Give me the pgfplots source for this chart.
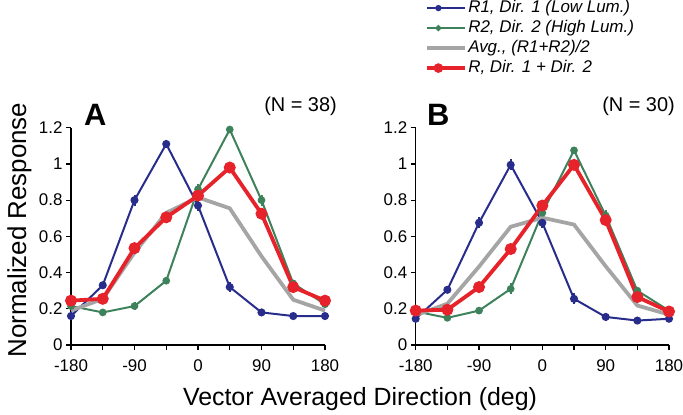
\documentclass[border=0pt]{standalone}
\usepackage{pgfplots}
\pgfplotsset{compat=1.18}
\usepackage{fontspec}
\setmainfont{Liberation Sans}
\setsansfont{Liberation Sans}

\definecolor{rone}{RGB}{40,45,140}
\definecolor{rtwo}{RGB}{62,130,92}
\definecolor{ravg}{RGB}{165,165,165}
\definecolor{rsum}{RGB}{230,35,42}

\pgfplotsset{
  tuning/.style={
    scale only axis,
    xmin=-180, xmax=180, ymin=0, ymax=1.2,
    axis x line*=bottom, axis y line*=left,
    axis line style={black, line width=1.2bp, -},
    xtick={-180,-135,...,180},
    xticklabels={-180,,-90,,0,,90,,180},
    ytick={0,0.2,0.4,0.6,0.8,1,1.2},
    yticklabels={0,0.2,0.4,0.6,0.8,1,1.2},
    tick align=outside,
    major tick length=5bp,
    tick style={black, line width=1.2bp},
    ticklabel style={font=\fontsize{17}{17}\selectfont},
    xticklabel style={yshift=-6bp},
    /pgf/number format/assume math mode=true,
    clip=false,
    error bars/y dir=both, error bars/y explicit,
    error bars/error mark=none,
  },
  oneline/.style={color=rone, line width=2bp, mark=*, mark size=3bp,
    error bars/error bar style={line width=2bp, color=rone}},
  twoline/.style={color=rtwo, line width=2bp, mark=*, mark size=2.8bp,
    error bars/error bar style={line width=2bp, color=rtwo}},
  avgline/.style={color=ravg, line width=3.8bp, mark=none},
  sumline/.style={color=rsum, line width=3.8bp, mark=*, mark size=4bp,
    error bars/error bar style={line width=2.5bp, color=rsum}},
}

\begin{document}
\begin{tikzpicture}[x=1bp,y=1bp]
\useasboundingbox (0,0) rectangle (683,-414);

% panel A
\begin{axis}[tuning, at={(71bp,-345bp)}, anchor=south west,
  width=254bp, height=217.3bp]
\addplot[oneline] coordinates {
  (-180,0.16) +- (0,0.02) (-135,0.33) +- (0,0.02) (-90,0.80) +- (0,0.03)
  (-45,1.11) +- (0,0.02) (0,0.77) +- (0,0.03) (45,0.32) +- (0,0.03)
  (90,0.18) +- (0,0.02) (135,0.16) +- (0,0.01) (180,0.16) +- (0,0.01)};
\addplot[twoline] coordinates {
  (-180,0.215) +- (0,0.01) (-135,0.18) +- (0,0.01) (-90,0.215) +- (0,0.02)
  (-45,0.355) +- (0,0.02) (0,0.86) +- (0,0.03) (45,1.19) +- (0,0.02)
  (90,0.80) +- (0,0.03) (135,0.34) +- (0,0.02) (180,0.225) +- (0,0.01)};
\addplot[avgline] coordinates {
  (-180,0.19) (-135,0.255) (-90,0.51) (-45,0.73) (0,0.815)
  (45,0.755) (90,0.49) (135,0.25) (180,0.19)};
\addplot[sumline] coordinates {
  (-180,0.245) +- (0,0.02) (-135,0.255) +- (0,0.02) (-90,0.535) +- (0,0.03)
  (-45,0.705) +- (0,0.02) (0,0.825) +- (0,0.03) (45,0.98) +- (0,0.02)
  (90,0.725) +- (0,0.03) (135,0.32) +- (0,0.02) (180,0.245) +- (0,0.02)};
\end{axis}

% panel B
\begin{axis}[tuning, at={(415.7bp,-345bp)}, anchor=south west,
  width=253.3bp, height=217.3bp,
  legend style={at={(0.026,1.602)}, anchor=north west, draw=none, fill=none,
    font=\itshape\fontsize{17}{17}\selectfont, row sep=2bp,
    nodes={inner sep=1bp, text height=12bp, text depth=4bp}},
  legend cell align=left,
  legend image code/.code={
    \path (0bp,0bp) -- (38bp,0bp);
    \draw[mark repeat=2, mark phase=2, every mark/.append style={scale=0.7}, #1]
      plot coordinates {(0bp,0bp) (11bp,0bp) (22bp,0bp)};}]
\addplot[oneline] coordinates {
  (-180,0.145) +- (0,0.02) (-135,0.305) +- (0,0.02) (-90,0.675) +- (0,0.03)
  (-45,0.995) +- (0,0.03) (0,0.675) +- (0,0.03) (45,0.255) +- (0,0.03)
  (90,0.155) +- (0,0.02) (135,0.135) +- (0,0.01) (180,0.145) +- (0,0.01)};
\addlegendentry{R1, Dir. 1 (Low Lum.)}
\addplot[twoline] coordinates {
  (-180,0.185) +- (0,0.01) (-135,0.15) +- (0,0.01) (-90,0.19) +- (0,0.02)
  (-45,0.31) +- (0,0.03) (0,0.73) +- (0,0.03) (45,1.075) +- (0,0.02)
  (90,0.715) +- (0,0.03) (135,0.30) +- (0,0.02) (180,0.19) +- (0,0.01)};
\addlegendentry{R2, Dir. 2 (High Lum.)}
\addplot[avgline] coordinates {
  (-180,0.165) (-135,0.228) (-90,0.433) (-45,0.653) (0,0.703)
  (45,0.665) (90,0.435) (135,0.218) (180,0.168)};
\addlegendentry{Avg., (R1+R2)/2}
\addplot[sumline] coordinates {
  (-180,0.19) +- (0,0.02) (-135,0.195) +- (0,0.02) (-90,0.32) +- (0,0.02)
  (-45,0.53) +- (0,0.03) (0,0.77) +- (0,0.03) (45,0.995) +- (0,0.02)
  (90,0.69) +- (0,0.03) (135,0.265) +- (0,0.02) (180,0.185) +- (0,0.02)};
\addlegendentry{R, Dir. 1 + Dir. 2}
\end{axis}

\node[anchor=base west, inner sep=0pt, font=\bfseries\fontsize{31}{31}\selectfont] at (84,-125.7) {A};
\node[anchor=base west, inner sep=0pt, font=\bfseries\fontsize{31}{31}\selectfont] at (427,-125.3) {B};
\node[anchor=base east, inner sep=0pt, font=\fontsize{20}{20}\selectfont] at (337,-111.5) {(N = 38)};
\node[anchor=base east, inner sep=0pt, font=\fontsize{20}{20}\selectfont] at (675,-111.5) {(N = 30)};
\node[anchor=base, rotate=90, inner sep=0pt, font=\fontsize{26}{26}\selectfont] at (26,-230) {Normalized Response};
\node[anchor=base, inner sep=0pt, font=\fontsize{25}{25}\selectfont] at (360,-405) {Vector Averaged Direction (deg)};
\end{tikzpicture}
\end{document}
